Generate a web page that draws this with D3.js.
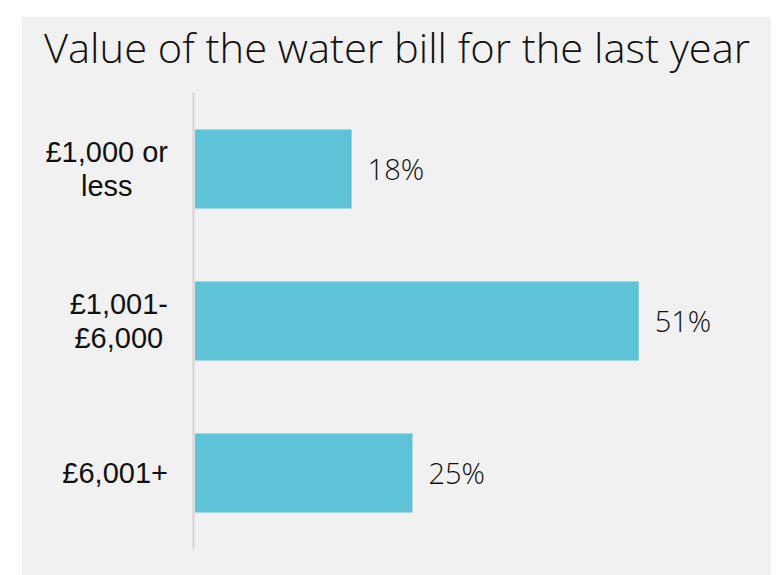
<!DOCTYPE html>
<html>
<head>
<meta charset="utf-8">
<script src="https://cdn.jsdelivr.net/npm/d3@7"></script>
<style>
  html, body { margin: 0; padding: 0; background: #ffffff; }
  svg { display: block; }
</style>
</head>
<body>
<svg id="chart" width="782" height="575"></svg>
<script>
// Survey result: annual water bill bands
const categories = [["£1,000 or", "less"], ["£1,001-", "£6,000"], ["£6,001+"]];
const values = [18, 51, 25];
const valueLabels = ["18%", "51%", "25%"];
const title = "Value of the water bill for the last year";

const svg = d3.select("#chart");
const W = 782, H = 575;

// panel background
svg.append("rect")
  .attr("x", 22).attr("y", 17)
  .attr("width", 749).attr("height", H - 17)
  .attr("fill", "#f1f1f1");

// title
svg.append("text")
  .attr("x", 44).attr("y", 63)
  .attr("font-family", "'Open Sans', sans-serif")
  .attr("font-weight", 300)
  .attr("font-size", 40)
  .attr("fill", "#111")
  .attr("textLength", 706)
  .attr("lengthAdjust", "spacingAndGlyphs")
  .text(title);

const x = d3.scaleLinear().domain([0, 60]).range([195, 717]);
const y = d3.scaleBand()
  .domain(d3.range(categories.length))
  .range([93, 549])
  .paddingInner(0.48)
  .paddingOuter(0.24);

// bars
svg.append("g").selectAll("rect")
  .data(values)
  .join("rect")
  .attr("x", x(0))
  .attr("y", (d, i) => y(i))
  .attr("width", d => x(d) - x(0))
  .attr("height", y.bandwidth())
  .attr("fill", "#5fc3d8");

// vertical axis line
svg.append("line")
  .attr("x1", 193.5).attr("x2", 193.5)
  .attr("y1", 93).attr("y2", 549)
  .attr("stroke", "#d4d4d4")
  .attr("stroke-width", 2);

// category labels: block right-aligned, lines centred within the block
const lineH = 34;
const catG = svg.append("g");
categories.forEach((lines, i) => {
  const cy = y(i) + y.bandwidth() / 2;
  const g = catG.append("g");
  const texts = lines.map((t, k) => g.append("text")
    .attr("font-family", "'Liberation Sans', Arial, sans-serif")
    .attr("font-size", 29)
    .attr("fill", "#111")
    .attr("text-anchor", "middle")
    .attr("y", cy - (lines.length - 1) * lineH / 2 + k * lineH + 10)
    .text(t));
  const maxW = d3.max(texts, t => t.node().getComputedTextLength());
  texts.forEach(t => t.attr("x", 168 - maxW / 2));
});

// value labels
svg.append("g").selectAll("text")
  .data(values)
  .join("text")
  .attr("x", d => x(d) + 16)
  .attr("y", (d, i) => y(i) + y.bandwidth() / 2 + 10.5)
  .attr("font-family", "'Open Sans', sans-serif")
  .attr("font-weight", 300)
  .attr("font-size", 29)
  .attr("fill", "#111")
  .text((d, i) => valueLabels[i]);
</script>
</body>
</html>
